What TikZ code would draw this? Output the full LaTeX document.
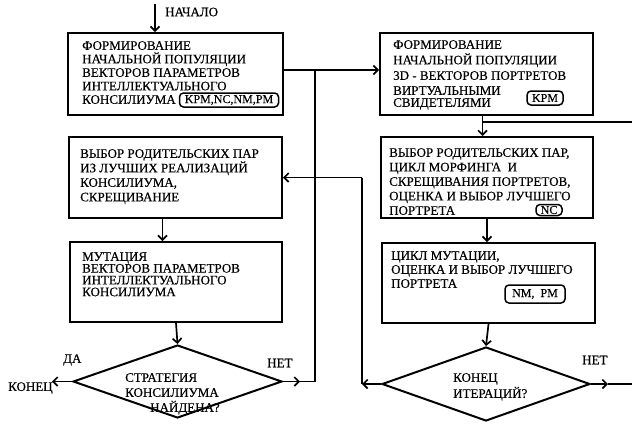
\documentclass[tikz,border=0pt]{standalone}
\usepackage{fontspec}
\setmainfont[FakeBold=0.4]{Liberation Serif}
\usetikzlibrary{shapes,calc,arrows.meta}
\begin{document}
\begin{tikzpicture}[x=1pt,y=-1pt,font=\fontsize{13}{14.5}\selectfont]
\tikzset{>={Straight Barb[length=4.5pt,width=9pt]}}

\tikzstyle{block}=[draw, line width=2pt, inner sep=0pt]
\tikzstyle{txt}=[anchor=north west, align=left, inner sep=0pt]
\tikzstyle{tag}=[draw, line width=1.5pt, rounded corners=4pt, inner sep=0pt, font=\fontsize{12}{12}\selectfont]
\tikzstyle{cond}=[draw, diamond, line width=2pt, inner sep=0pt]
\tikzstyle{cr}=[line width=1.7pt]

\useasboundingbox (0,0) rectangle (632,429);

% left column
\node(form1)[block, minimum width=215pt, minimum height=82pt] at (175.5,74) {};
\node(form1t)[txt, font=\fontsize{13}{13.5}\selectfont] at (82,41) {ФОРМИРОВАНИЕ\\НАЧАЛЬНОЙ ПОПУЛЯЦИИ\\ВЕКТОРОВ ПАРАМЕТРОВ\\ИНТЕЛЛЕКТУАЛЬНОГО\\КОНСИЛИУМА};
\node(form1k)[tag, minimum width=99pt, minimum height=14pt] at (229,100) {KPM,NC,NM,PM};

\node(sel1)[block, minimum width=213pt, minimum height=81pt] at (175.5,177.5) {};
\node(sel1t)[txt] at (80,149) {ВЫБОР РОДИТЕЛЬСКИХ ПАР\\ИЗ ЛУЧШИХ РЕАЛИЗАЦИЙ\\КОНСИЛИУМА,\\СКРЕЩИВАНИЕ};

\node(mut1)[block, minimum width=212pt, minimum height=80pt] at (176,282) {};
\node(mut1t)[txt, font=\fontsize{13}{11.8}\selectfont] at (82,252) {МУТАЦИЯ\\ВЕКТОРОВ ПАРАМЕТРОВ\\ИНТЕЛЛЕКТУАЛЬНОГО\\КОНСИЛИУМА};

\node(dec1)[cond, minimum width=209pt, minimum height=73pt] at (177.5,381.5) {};
\node(dec1t)[txt, font=\fontsize{13}{15}\selectfont] at (125,373) {СТРАТЕГИЯ\\КОНСИЛИУМА\\\hspace*{25pt}НАЙДЕНА?};

% right column
\node(formR)[block, minimum width=213pt, minimum height=82pt] at (486.5,74) {};
\node(formRt)[txt, font=\fontsize{13}{15.5}\selectfont] at (393,40) {ФОРМИРОВАНИЕ\\НАЧАЛЬНОЙ ПОПУЛЯЦИИ\\3D - ВЕКТОРОВ ПОРТРЕТОВ};
\node(formRu)[txt, font=\fontsize{13}{12}\selectfont] at (393,86) {ВИРТУАЛЬНЫМИ\\СВИДЕТЕЛЯМИ};
\node(formRk)[tag, minimum width=36pt, minimum height=14pt] at (545,98) {KPM};

\node(selR)[block, minimum width=212pt, minimum height=81pt] at (487,177.5) {};
\node(selRt)[txt] at (389,148) {ВЫБОР РОДИТЕЛЬСКИХ ПАР,\\ЦИКЛ МОРФИНГА\ \ И\\СКРЕЩИВАНИЯ ПОРТРЕТОВ,\\ОЦЕНКА И ВЫБОР ЛУЧШЕГО\\ПОРТРЕТА};
\node(selRk)[tag, minimum width=26pt, minimum height=11pt] at (549,210) {NC};

\node(mutR)[block, minimum width=213pt, minimum height=80pt] at (488.5,283) {};
\node(mutRt)[txt, font=\fontsize{13}{14}\selectfont] at (391,251) {ЦИКЛ МУТАЦИИ,\\ОЦЕНКА И ВЫБОР ЛУЧШЕГО\\ПОРТРЕТА};
\node(mutRk)[tag, minimum width=60pt, minimum height=18pt] at (535,294) {NM,\ \ PM};

\node(dec2)[cond, minimum width=208pt, minimum height=74pt] at (486,384) {};
\node(dec2t)[txt, font=\fontsize{13}{16}\selectfont] at (453,373) {КОНЕЦ\\ИТЕРАЦИЙ?};

% labels
\node(beg)[anchor=west, inner sep=0pt] at (165,12) {НАЧАЛО};
\node(yesl)[anchor=west, inner sep=0pt] at (63,360) {ДА};
\node(endl)[anchor=west, inner sep=0pt] at (8,388) {КОНЕЦ};
\node(no1l)[anchor=west, inner sep=0pt] at (267,363) {НЕТ};
\node(no2l)[anchor=west, inner sep=0pt] at (582,360) {НЕТ};

% connectors
\coordinate (start) at (155,4);
\coordinate (bus) at (315,0);
\coordinate (bus2) at (362,0);
\coordinate (yes1) at (52,0);
\coordinate (no1) at (300,0);
\coordinate (no2) at (608,0);
\coordinate (edge) at (632,0);
\coordinate (ret) at (632,122);

\draw[cr,->] (start) -- (start |- form1.north);
\draw[cr,->] ([yshift=4pt]form1.east) -- ([yshift=4pt]formR.west);
\draw[cr] ([yshift=4pt]form1.east -| bus) -- (dec1.east -| bus) -- (dec1.east);
\draw[cr,->] (dec1.east) -- (dec1.east -| no1);
\draw[cr,->] (sel1.east -| bus2) -- (sel1.east);
\draw[cr] (sel1.east -| bus2) -- (dec2.west -| bus2);
\draw[cr,->] (dec2.west) -- (dec2.west -| bus2);
\draw[cr,->] ([xshift=-13pt]sel1.south) -- ([xshift=-13pt]sel1.south |- mut1.north);
\draw[cr,->] (mut1.south) -- (dec1.north);
\draw[cr,->] (dec1.west) -- (dec1.west -| yes1);
\draw[cr,->] ([xshift=-4pt]formR.south) -- ([xshift=-4pt]formR.south |- selR.north);
\draw[cr] ([xshift=-4pt]formR.south |- ret) -- (ret);
\draw[cr,->] (selR.south) -- (selR.south |- mutR.north);
\draw[cr,->] (mutR.south) -- (dec2.north);
\draw[cr,->] (dec2.east) -- (dec2.east -| no2);
\draw[cr] (dec2.east -| no2) -- (dec2.east -| edge);

\end{tikzpicture}
\end{document}
